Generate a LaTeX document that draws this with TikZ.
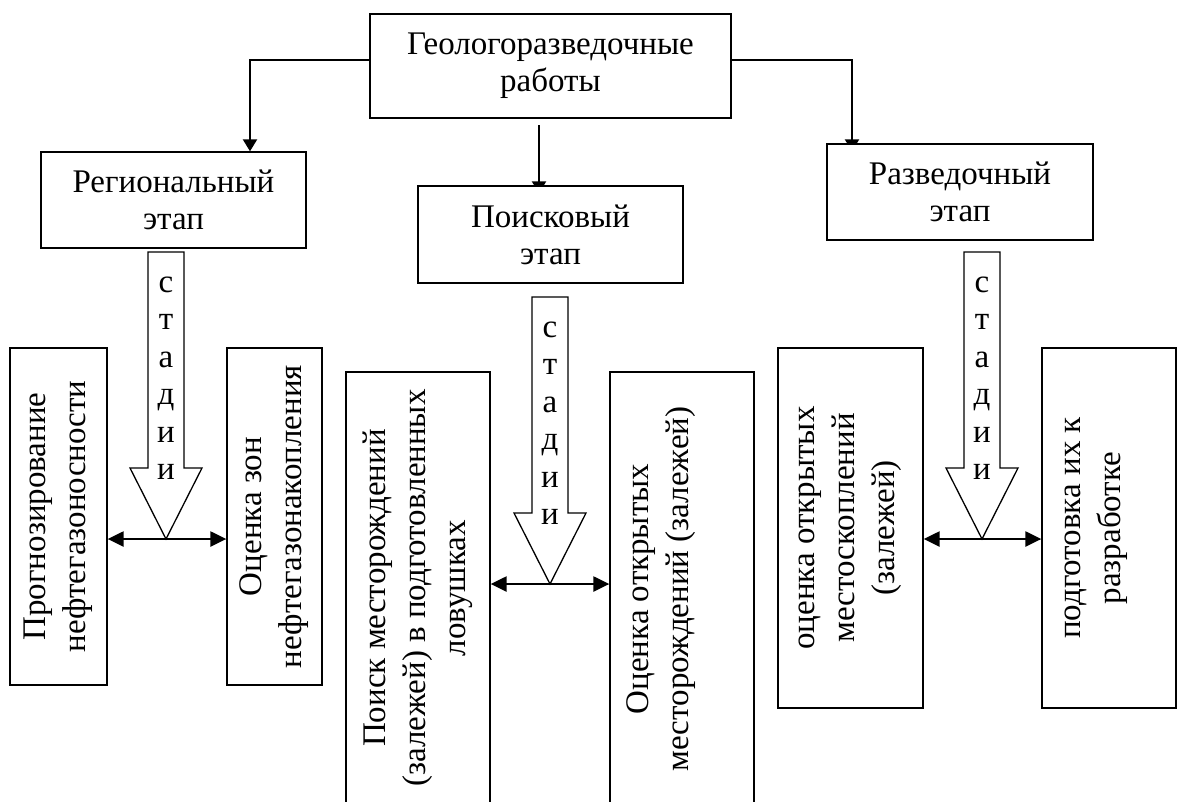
\documentclass[tikz,border=0pt]{standalone}
\usepackage{fontspec}
\setmainfont{Liberation Serif}
\usetikzlibrary{calc}
\usetikzlibrary{arrows.meta}
\usetikzlibrary{backgrounds}
\tikzset{
  stagebox/.style={draw, fill=white, line width=1.3pt, inner sep=0pt, align=center, font=\fontsize{33}{37}\selectfont},
  vtext/.style={rotate=90, align=center, inner sep=0pt, font=\fontsize{33}{40}\selectfont},
  conn/.style={line width=2pt, ->, >={Triangle[length=12pt,width=14pt]}},
  both/.style={line width=2.3pt, <->, >={Triangle[length=16pt,width=15pt]}},
  hollow/.style={draw, line width=1.3pt, fill=white},
  letter/.style={inner sep=0pt, anchor=base, font=\fontsize{33}{33}\selectfont}
}

\begin{document}
\begin{tikzpicture}[x=1pt, y=-1pt]
    \useasboundingbox (0,0) rectangle (1177,801);
    \clip (0,0) rectangle (1177,801);
    % works and stages
    \node[stagebox, minimum width=361, minimum height=104] (top) at (550.5,66) {Геологоразведочные\\работы};
    \node[stagebox, minimum width=265, minimum height=96] (reg) at (173.5,200) {Региональный\\этап};
    \node[stagebox, minimum width=265, minimum height=97] (poisk) at (550.5,234.5) {Поисковый\\этап};
    \node[stagebox, minimum width=266, minimum height=96] (razv) at (960,192) {Разведочный\\этап};
    \coordinate (ljoin) at (250,60);
    \coordinate (mjoin) at (539,125);
    \coordinate (rjoin) at (852,60);
    \begin{scope}[on background layer]
      \draw[conn] (top.west |- ljoin) -| (reg.north -| ljoin);
      \draw[conn, shorten >=-8pt] (mjoin) -- (poisk.north -| mjoin);
      \draw[conn, shorten >=-8pt] (top.east |- rjoin) -| (razv.north -| rjoin);
    \end{scope}
    % stadii
    \foreach \n/\x/\y in {L/166/252, M/550/297, R/982/252} {
      \draw[hollow] (\x-18,\y) -- (\x+18,\y) -- (\x+18,\y+216) -- (\x+36,\y+216) -- (\x,\y+287) -- (\x-36,\y+216) -- (\x-18,\y+216) -- cycle;
      \coordinate (tip\n) at (\x,\y+287);
      \foreach \c [count=\i] in {с,т,а,д,и,и}
        \node[letter] (st\n\i) at (\x,\y+40+37.5*\i-37.5) {\c};
    }
    % stage boxes
    \node[stagebox, minimum width=97, minimum height=337] (b1) at (58.5,516.5) {};
    \node[stagebox, minimum width=95, minimum height=337] (b2) at (274.5,516.5) {};
    \node[stagebox, minimum width=144, minimum height=434] (b3) at (418,589) {};
    \node[stagebox, minimum width=144, minimum height=434] (b4) at (682,589) {};
    \node[stagebox, minimum width=145, minimum height=360] (b5) at (850.5,528) {};
    \node[stagebox, minimum width=134, minimum height=360] (b6) at (1109,528) {};
    \node[vtext] (t1) at (b1) {Прогнозирование\\нефтегазоносности};
    \node[vtext] (t2) at (b2) {Оценка зон\\нефтегазонакопления};
    \node[vtext] (t3) at ([yshift=1pt]b3.center) {Поиск месторождений\\(залежей) в подготовленных\\ловушках};
    \node[vtext] (t4) at ([xshift=-20.5pt]b4.center) {Оценка открытых\\месторождений (залежей)};
    \node[vtext] (t5) at (b5) {оценка открытых\\местоскоплений\\(залежей)};
    \node[vtext] (t6) at ([xshift=-13pt]b6.center) {подготовка их к\\разработке};
    \draw[both] (b1.east |- tipL) -- (b2.west |- tipL);
    \draw[both] (b3.east |- tipM) -- (b4.west |- tipM);
    \draw[both] (b5.east |- tipR) -- (b6.west |- tipR);
\end{tikzpicture}
\end{document}
